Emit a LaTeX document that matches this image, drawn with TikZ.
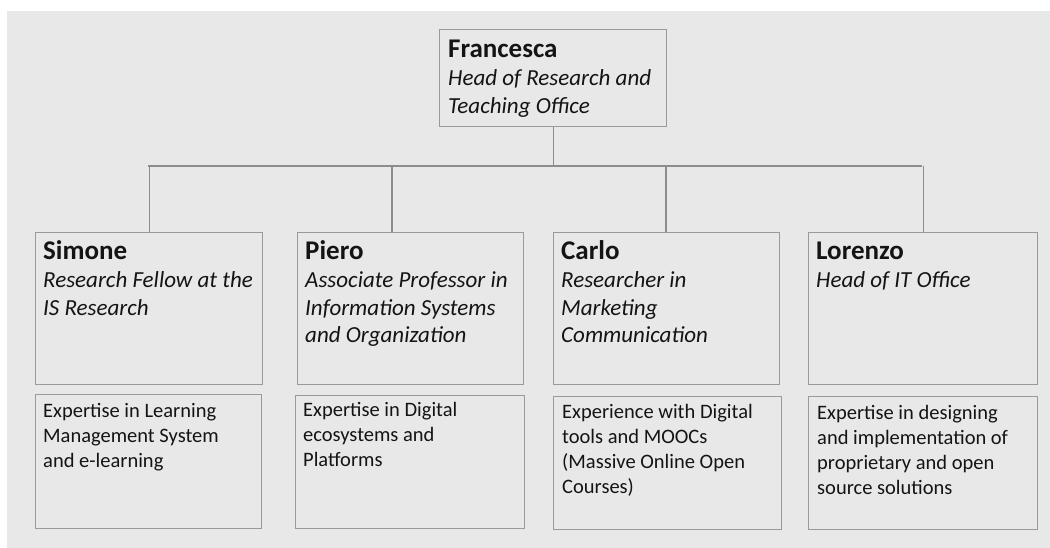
\documentclass[tikz,border=0pt]{standalone}
\usepackage{fontspec}
\setmainfont{Carlito}
\definecolor{panel}{HTML}{E8E8E8}
\definecolor{frame}{HTML}{9A9A9A}
\definecolor{wire}{HTML}{8C8C8C}
\definecolor{ink}{HTML}{141414}
% name / role / expertise text settings
\newcommand{\whofont}{\fontsize{27}{28}\selectfont\bfseries\upshape}
\newcommand{\rolefont}{\fontsize{23}{27.5}\selectfont\mdseries\itshape}
\newcommand{\skillfont}{\fontsize{20.5}{25}\selectfont}
\newcommand{\person}[3]{\parbox[t]{#1}{\raggedright\whofont #2\par\vspace{0.5pt}\rolefont #3\par}}
\newcommand{\skills}[2]{\parbox[t]{#1}{\raggedright\skillfont #2\par}}
\begin{document}
\begin{tikzpicture}[x=1pt,y=-1pt,
  card/.style={draw=frame, line width=1.4pt, anchor=north west, inner sep=0pt},
  txt/.style={anchor=base west, inner sep=0pt, text=ink},
  link/.style={draw=wire, line width=1.4pt}]
\useasboundingbox (0,0) rectangle (1050,548);
\fill[white] (0,0) rectangle (1050,548);
\fill[panel] (7,11) rectangle (1050,548);

% head box
\node[card, minimum width=227pt, minimum height=97pt] (F) at (439,29) {};
\node[txt] (Ft) at (448,58) {\person{215pt}{Francesca}{Head of Research and\\Teaching Office}};

% staff boxes
\node[card, minimum width=227pt, minimum height=152pt] (S) at (35,232) {};
\node[card, minimum width=226pt, minimum height=152pt] (P) at (297,232) {};
\node[card, minimum width=226pt, minimum height=152pt] (C) at (553,232) {};
\node[card, minimum width=229pt, minimum height=152pt] (L) at (808,232) {};

\node[txt] (St) at (43,260) {\person{215pt}{Simone}{Research Fellow at the\\IS Research}};
\node[txt] (Pt) at (305,260) {\person{215pt}{Piero}{Associate Professor in\\Information Systems\\and Organization}};
\node[txt] (Ct) at (561,260) {\person{215pt}{Carlo}{Researcher in\\Marketing\\Communication}};
\node[txt] (Lt) at (816,260) {\person{215pt}{Lorenzo}{Head of IT Office}};

% expertise boxes
\node[card, minimum width=226pt, minimum height=134pt] (Se) at (35,394) {};
\node[card, minimum width=229pt, minimum height=133pt] (Pe) at (295,395) {};
\node[card, minimum width=228pt, minimum height=133pt] (Ce) at (553,396) {};
\node[card, minimum width=229pt, minimum height=133pt] (Le) at (808,396) {};

\node[txt] (Set) at (43,417) {\skills{215pt}{Expertise in Learning\\Management System\\and e-learning}};
\node[txt] (Pet) at (303,416) {\skills{215pt}{Expertise in Digital\\ecosystems and\\Platforms}};
\node[txt] (Cet) at (562,418) {\skills{215pt}{Experience with Digital\\tools and MOOCs\\(Massive Online Open\\Courses)}};
\node[txt] (Let) at (817,419) {\skills{215pt}{Expertise in designing\\and implementation of\\proprietary and open\\source solutions}};

% connectors
\coordinate (busL) at (148,166);
\coordinate (busR) at (922,166);
\coordinate (pdrop) at (392,166);
\coordinate (cdrop) at (666,166);
\draw[link] (busL) -- (busR);
\draw[link] (F.south) -- (F.south |- busL);
\draw[link] (S.north) -- (S.north |- busL);
\draw[link] (pdrop) -- (pdrop |- P.north);
\draw[link] (cdrop) -- (cdrop |- C.north);
\draw[link] (L.north) -- (L.north |- busR);
\end{tikzpicture}
\end{document}
